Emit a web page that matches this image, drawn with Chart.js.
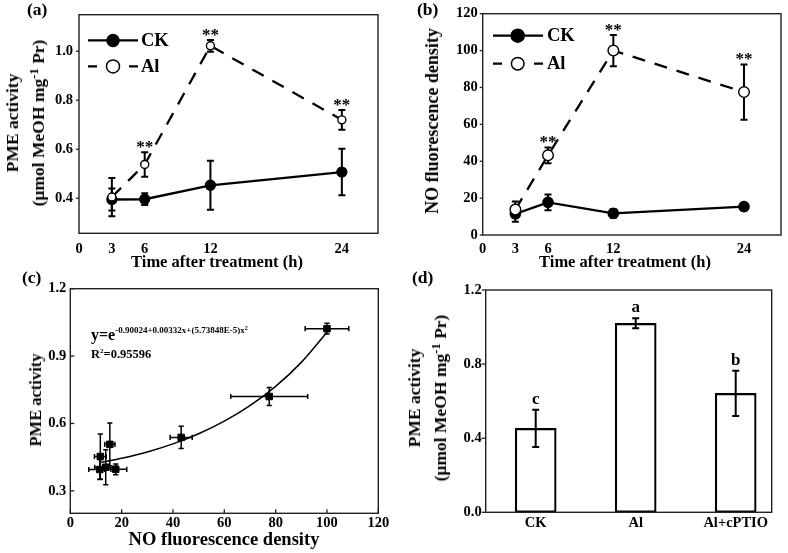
<!DOCTYPE html>
<html><head><meta charset="utf-8">
<script src="https://cdn.jsdelivr.net/npm/chart.js@4.4.1/dist/chart.umd.min.js"></script>
<style>
html,body{margin:0;padding:0;background:#fff;}
#wrap{position:relative;width:788px;height:553px;overflow:hidden;background:#fff;}
#wrap canvas{position:absolute;}
.t{position:absolute;white-space:nowrap;line-height:1;font-family:'Liberation Serif','Times New Roman',serif;font-weight:bold;color:#000;}
.r{position:absolute;white-space:nowrap;text-align:center;font-family:'Liberation Serif','Times New Roman',serif;font-weight:bold;color:#000;transform:translate(-50%,-50%) rotate(-90deg);}
</style></head><body>
<div id="wrap">
<canvas id="cA" width="394" height="276" style="left:0;top:0"></canvas>
<canvas id="cB" width="394" height="276" style="left:394px;top:0"></canvas>
<canvas id="cC" width="394" height="277" style="left:0;top:276px"></canvas>
<canvas id="cD" width="394" height="277" style="left:394px;top:276px"></canvas>
</div>
<script>
// ---------- data ----------
// (a) PME activity over time
const timeH = [3, 6, 12, 24];
const xTicksTime = [0, 3, 6, 12, 24];
const pmeCK = [0.395, 0.396, 0.453, 0.507];
const pmeCKErr = [0.045, 0.024, 0.1, 0.095];
const pmeAl = [0.405, 0.538, 1.022, 0.72];
const pmeAlErr = [0.078, 0.05, 0.024, 0.04];
const pmeAlSig = ['', '**', '**', '**'];
const yTicksA = [0.4, 0.6, 0.8, 1.0];
// (b) NO fluorescence density over time
const noCK = [11.5, 17.7, 11.7, 15.4];
const noCKErr = [4.3, 4.3, 2.3, 2.0];
const noAl = [13.8, 43.2, 100, 77.5];
const noAlErr = [4.3, 4.3, 8.5, 15];
const noAlSig = ['', '**', '**', '**'];
const yTicksB = [0, 20, 40, 60, 80, 100, 120];
// (c) PME activity vs NO fluorescence (same measurements as a & b)
const xTicksC = [0, 20, 40, 60, 80, 100, 120];
const yTicksC = [0.3, 0.6, 0.9, 1.2];
const fitNO = [12, 20, 30, 40, 50, 60, 70, 80, 90, 100];
const fitPME = [0.427, 0.445, 0.473, 0.509, 0.554, 0.610, 0.679, 0.765, 0.872, 1.006];
// (d) PME activity by treatment
const treatments = ['CK', 'Al', 'Al+cPTIO'];
const pmeBar = [0.453, 1.02, 0.642];
const pmeBarErr = [0.1, 0.027, 0.122];
const barSig = ['c', 'a', 'b'];
const yTicksD = [0, 0.4, 0.8, 1.2];

// ---------- helpers ----------
const FF = "'Liberation Serif','Times New Roman',serif";
function drawErrors(chart, o) {
  const ctx = chart.ctx, xs = chart.scales.x, ys = chart.scales.y;
  ctx.save(); ctx.strokeStyle = '#000'; ctx.setLineDash([]); ctx.lineCap = 'butt';
  chart.data.datasets.forEach(ds => {
    if (!ds.yErr && !ds.xErr) return;
    ctx.lineWidth = o.errWidth;
    ds.data.forEach((p, j) => {
      const px = xs.getPixelForValue(p.x), py = ys.getPixelForValue(p.y), c = o.cap;
      ctx.beginPath();
      if (ds.yErr) {
        const t = ys.getPixelForValue(p.y + ds.yErr[j]), b = ys.getPixelForValue(p.y - ds.yErr[j]);
        ctx.moveTo(px, t); ctx.lineTo(px, b);
        ctx.moveTo(px - c, t); ctx.lineTo(px + c, t);
        ctx.moveTo(px - c, b); ctx.lineTo(px + c, b);
      }
      if (ds.xErr) {
        const l = xs.getPixelForValue(p.x - ds.xErr[j]), r = xs.getPixelForValue(p.x + ds.xErr[j]);
        ctx.moveTo(l, py); ctx.lineTo(r, py);
        ctx.moveTo(l, py - c); ctx.lineTo(l, py + c);
        ctx.moveTo(r, py - c); ctx.lineTo(r, py + c);
      }
      ctx.stroke();
    });
  });
  ctx.restore();
}
const deco = {
  id: 'deco',
  beforeDatasetsDraw(chart, a, o) { if (!o.errAfter) drawErrors(chart, o); },
  afterDatasetsDraw(chart, a, o) {
    if (o.errAfter) drawErrors(chart, o);
    const ctx = chart.ctx, ca = chart.chartArea, xs = chart.scales.x, ys = chart.scales.y;
    ctx.save(); ctx.setLineDash([]); ctx.strokeStyle = '#222'; ctx.lineWidth = 1.3;
    if (o.yTick) ys.ticks.forEach(t => { const py = ys.getPixelForValue(t.value); ctx.beginPath(); ctx.moveTo(ca.left, py); ctx.lineTo(ca.left + o.yTick, py); ctx.stroke(); });
    if (o.xTick) xs.ticks.forEach(t => { const px = xs.getPixelForValue(t.value); ctx.beginPath(); ctx.moveTo(px, ca.bottom); ctx.lineTo(px, ca.bottom - o.xTick); ctx.stroke(); });
    ctx.lineWidth = o.frame;
    ctx.strokeRect(ca.left, ca.top, ca.right - ca.left, ca.bottom - ca.top);
    ctx.fillStyle = '#000';
    ctx.font = 'bold ' + o.sigSize + 'px ' + FF; ctx.textAlign = 'center'; ctx.textBaseline = 'alphabetic';
    chart.data.datasets.forEach(ds => {
      if (!ds.sig) return;
      ds.data.forEach((p, j) => {
        if (!ds.sig[j]) return;
        const px = xs.getPixelForValue(p.x), py = ys.getPixelForValue(p.y + (ds.yErr ? ds.yErr[j] : 0));
        ctx.fillText(ds.sig[j], px, py - o.sigGap);
      });
    });
    if (o.legend) {
      o.legend.forEach(it => {
        const y = ca.top + it.dy, x0 = ca.left + it.x0, x1 = ca.left + it.x1, xm = ca.left + it.xm;
        ctx.strokeStyle = '#000'; ctx.lineWidth = 2.3; ctx.beginPath();
        if (it.dashed) { ctx.moveTo(x0, y); ctx.lineTo(x0 + 9, y); ctx.moveTo(x1 - 9, y); ctx.lineTo(x1, y); }
        else { ctx.moveTo(x0, y); ctx.lineTo(x1, y); }
        ctx.stroke();
        ctx.beginPath(); ctx.arc(xm, y, it.r, 0, Math.PI * 2);
        ctx.fillStyle = it.filled ? '#000' : '#fff'; ctx.fill();
        ctx.lineWidth = 1.5; ctx.stroke();
        ctx.fillStyle = '#000'; ctx.font = 'bold 18.5px ' + FF; ctx.textAlign = 'left'; ctx.textBaseline = 'middle';
        ctx.fillText(it.label, ca.left + it.tx, y + 1);
      });
    }
    ctx.restore();
  }
};
Chart.register(deco);

function scaleCfg(axis, min, max, ticks, size, pad, fmt) {
  return {
    type: 'linear', min: min, max: max, offset: false,
    afterBuildTicks: s => { s.ticks = ticks.map(v => ({ value: v })); },
    afterFit: s => { if (axis === 'x') s.height = size; else s.width = size; },
    grid: { display: false, drawTicks: false, offset: false }, border: { display: false },
    ticks: { autoSkip: false, maxRotation: 0, padding: pad, color: '#000',
      font: { family: FF, weight: 'bold', size: 14.5 }, callback: fmt }
  };
}
function opts(o) {
  return {
    responsive: false, animation: false, devicePixelRatio: 1,
    layout: { padding: o.pad },
    plugins: { legend: { display: false }, tooltip: { enabled: false }, title: { display: false }, deco: o.deco },
    scales: { x: o.x, y: o.y }
  };
}
const pts = (xs, ys) => xs.map((x, i) => ({ x: x, y: ys[i] }));
const f1 = v => Number(v).toFixed(1);
const f0 = v => String(v);

// ---------- (a) ----------
new Chart(document.getElementById('cA'), {
  type: 'line',
  data: { datasets: [
    { data: pts(timeH, pmeAl), yErr: pmeAlErr, sig: pmeAlSig, borderColor: '#000', borderWidth: 2.3, borderDash: [13, 10],
      pointRadius: 4, pointBackgroundColor: '#fff', pointBorderColor: '#000', pointBorderWidth: 1.4, tension: 0 },
    { data: pts(timeH, pmeCK), yErr: pmeCKErr, borderColor: '#000', borderWidth: 2.3,
      pointRadius: 4.5, pointBackgroundColor: '#000', pointBorderColor: '#000', tension: 0 }
  ] },
  options: opts({
    pad: { left: 0, top: 13.3, right: 16, bottom: 0 },
    x: scaleCfg('x', 0, 27.3, xTicksTime, 42.7, 7.5, f0),
    y: scaleCfg('y', 0.257, 1.149, yTicksA, 79, 6, f1),
    deco: { errWidth: 2, cap: 3.5, frame: 1.4, yTick: -3, xTick: 0, sigSize: 17, sigGap: 0,
      legend: [
        { label: 'CK', dy: 25.7, x0: 9, x1: 59, xm: 34, r: 6, filled: true, tx: 62 },
        { label: 'Al', dy: 51.7, x0: 9, x1: 59, xm: 34, r: 6.5, filled: false, dashed: true, tx: 62 }
      ] }
  })
});

// ---------- (b) ----------
new Chart(document.getElementById('cB'), {
  type: 'line',
  data: { datasets: [
    { data: pts(timeH, noAl), yErr: noAlErr, sig: noAlSig, borderColor: '#000', borderWidth: 2.3, borderDash: [13, 10],
      pointRadius: 5.3, pointBackgroundColor: '#fff', pointBorderColor: '#000', pointBorderWidth: 1.4, tension: 0 },
    { data: pts(timeH, noCK), yErr: noCKErr, borderColor: '#000', borderWidth: 2.3,
      pointRadius: 4.7, pointBackgroundColor: '#000', pointBorderColor: '#000', tension: 0 }
  ] },
  options: opts({
    pad: { left: 0, top: 13.3, right: 5.3, bottom: 0 },
    x: scaleCfg('x', 0, 27.4, xTicksTime, 41, 5.8, f0),
    y: scaleCfg('y', 0, 120, yTicksB, 88.7, 5, f0),
    deco: { errWidth: 2, cap: 3.5, frame: 1.4, yTick: -3, xTick: 0, sigSize: 17, sigGap: 0,
      legend: [
        { label: 'CK', dy: 22, x0: 10.3, x1: 60.3, xm: 35, r: 6.5, filled: true, tx: 64.3 },
        { label: 'Al', dy: 50, x0: 10.3, x1: 60.3, xm: 35, r: 6.3, filled: false, dashed: true, tx: 64.3 }
      ] }
  })
});

// ---------- (c) ----------
new Chart(document.getElementById('cC'), {
  type: 'line',
  data: { datasets: [
    { data: pts(noCK.concat(noAl), pmeCK.concat(pmeAl)), xErr: noCKErr.concat(noAlErr), yErr: pmeCKErr.concat(pmeAlErr),
      showLine: false, pointStyle: 'rect', pointRadius: 4.6, pointBackgroundColor: '#000', pointBorderColor: '#000', pointBorderWidth: 1 },
    { data: pts(fitNO, fitPME), showLine: true, borderColor: '#000', borderWidth: 1.5, pointRadius: 0,
      cubicInterpolationMode: 'monotone' }
  ] },
  options: opts({
    pad: { left: 0, top: 9, right: 15.7, bottom: 0 },
    x: scaleCfg('x', 0, 120, xTicksC, 39.7, 1.3, f0),
    y: scaleCfg('y', 0.2, 1.2, yTicksC, 70.3, 4, f1),
    deco: { errWidth: 1.5, cap: 2.6, frame: 1.4, yTick: 4, xTick: 4, sigSize: 17, sigGap: 0 }
  })
});

// ---------- (d) ----------
new Chart(document.getElementById('cD'), {
  type: 'bar',
  data: { datasets: [
    { data: treatments.map((t, i) => ({ x: i + 1, y: pmeBar[i] })), yErr: pmeBarErr, sig: barSig,
      backgroundColor: '#fff', borderColor: '#000', borderWidth: 2.2, borderSkipped: false, barThickness: 41 }
  ] },
  options: opts({
    pad: { left: 0, top: 14, right: 16.3, bottom: 0 },
    x: scaleCfg('x', 0.5, 3.36, [1, 2, 3], 40.7, 2, (v, i) => treatments[i]),
    y: scaleCfg('y', 0, 1.2, yTicksD, 91.7, 4, f1),
    deco: { errWidth: 2, cap: 3.5, frame: 1.4, yTick: -4, xTick: 0, sigSize: 17, sigGap: 6, errAfter: true }
  })
});

// ---------- HTML text ----------
const W = document.getElementById('wrap');
function txt(html, x, base, fs, center) {
  const d = document.createElement('div'); d.className = 't'; d.innerHTML = html;
  d.style.fontSize = fs + 'px'; d.style.top = (base - 0.8375 * fs) + 'px'; d.style.left = x + 'px';
  if (center) d.style.transform = 'translateX(-50%)';
  W.appendChild(d);
}
function rtxt(html, cx, cy, fs, lh) {
  const d = document.createElement('div'); d.className = 'r'; d.innerHTML = html;
  d.style.fontSize = fs + 'px'; d.style.lineHeight = lh + 'px'; d.style.left = cx + 'px'; d.style.top = cy + 'px';
  W.appendChild(d);
}
const SUP1 = '<span style="position:relative;top:-0.5em;font-size:0.72em">-1</span>';
const pmeUnit = '(μmol MeOH mg' + SUP1 + ' Pr)';
txt('(a)', 27, 16, 17.5); txt('(b)', 417, 16, 17.5); txt('(c)', 22, 283.5, 17.5); txt('(d)', 412, 283.5, 17.5);
rtxt('PME activity<br>' + pmeUnit, 25.5, 123, 17.5, 26);
rtxt('NO fluorescence density', 432.3, 121, 18, 26);
rtxt('PME activity', 35.5, 400, 16.5, 26);
rtxt('PME activity<br>' + pmeUnit, 428, 398, 17.5, 26);
txt('Time after treatment (h)', 217, 268, 16.5, true);
txt('Time after treatment (h)', 625, 268, 16.5, true);
txt('NO fluorescence density', 224, 545, 18.5, true);
txt('y=e<span style="font-size:9px;position:relative;top:-7px">-0.90024+0.00332x+(5.73848E-5)x<span style="font-size:6px;position:relative;top:-3px">2</span></span>', 91, 340, 16);
txt('R<span style="font-size:7px;position:relative;top:-5px">2</span>=0.95596', 91, 358, 12.5);
</script>
</body></html>
